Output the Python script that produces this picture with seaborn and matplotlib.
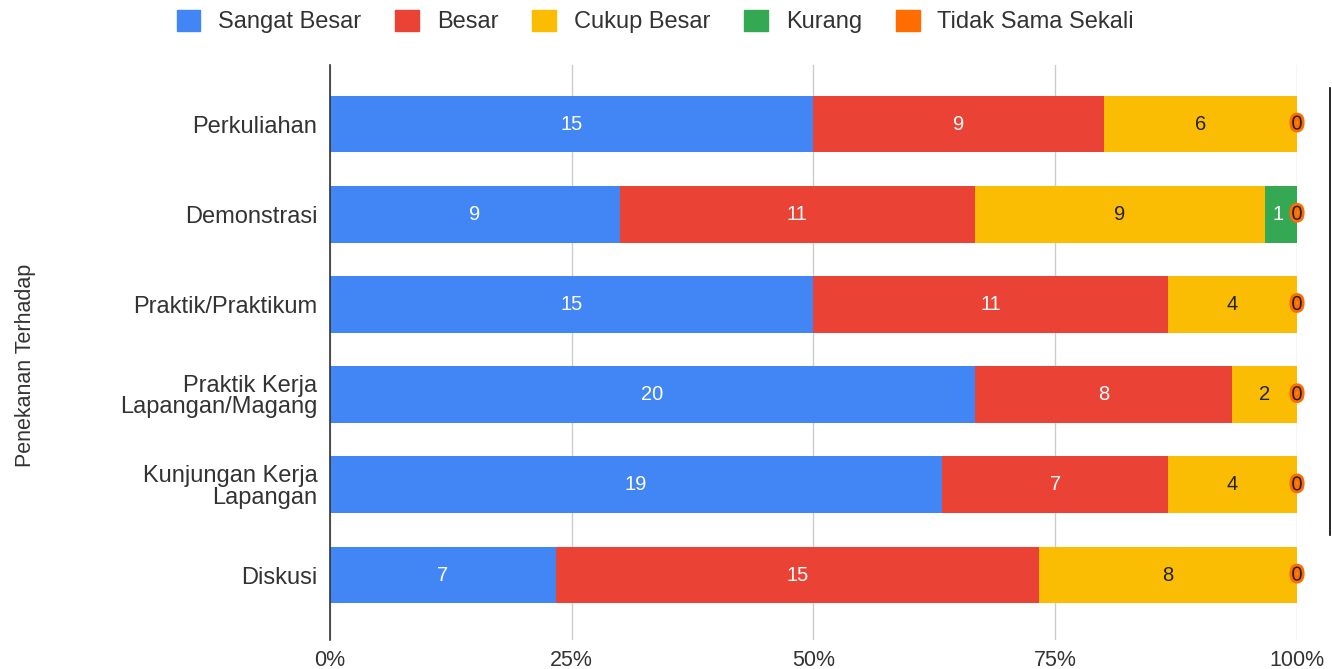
import matplotlib
matplotlib.use("Agg")
import matplotlib.pyplot as plt
import matplotlib.patheffects as pe
from matplotlib.lines import Line2D
from matplotlib.patches import Patch
import numpy as np
import pandas as pd
import seaborn as sns

categories = [
    "Perkuliahan",
    "Demonstrasi",
    "Praktik/Praktikum",
    "Praktik Kerja\nLapangan/Magang",
    "Kunjungan Kerja\nLapangan",
    "Diskusi",
]
series_names = ["Sangat Besar", "Besar", "Cukup Besar", "Kurang", "Tidak Sama Sekali"]
sangat_besar = [15, 9, 15, 20, 19, 7]
besar = [9, 11, 11, 8, 7, 15]
cukup_besar = [6, 9, 4, 2, 4, 8]
kurang = [0, 1, 0, 0, 0, 0]
tidak_sama_sekali = [0, 0, 0, 0, 0, 0]
x_ticks = [0, 25, 50, 75, 100]
x_tick_labels = ["0%", "25%", "50%", "75%", "100%"]

COLORS = ["#4285F4", "#EA4335", "#FBBC04", "#34A853", "#FF6D01"]
TEXT_COLORS = ["white", "white", "#222222", "white", "#222222"]
TXT = "#333333"

plt.rcParams["font.family"] = ["Liberation Sans", "DejaVu Sans"]

counts = np.array([sangat_besar, besar, cukup_besar, kurang, tidak_sama_sekali], dtype=float)
pct = counts / counts.sum(axis=0) * 100
cum = np.cumsum(pct, axis=0)

fig = plt.figure(figsize=(13.32, 6.69), dpi=100)
ax = fig.add_axes([0.2477, 0.0433, 0.726, 0.8595])

# stacked bars: draw cumulative totals from the last series backwards
for i in range(len(series_names) - 1, -1, -1):
    df = pd.DataFrame({"cat": categories, "val": cum[i]})
    sns.barplot(data=df, x="val", y="cat", orient="h", color=COLORS[i],
                saturation=1, width=0.63, ax=ax, zorder=2)

for j in range(len(categories)):
    for i in range(len(series_names)):
        left = cum[i, j] - pct[i, j]
        val = int(counts[i, j])
        if val == 0:
            if i == len(series_names) - 1:
                ax.text(100, j, "0", ha="center", va="center", fontsize=14.5,
                        color="#222222", zorder=5,
                        path_effects=[pe.withStroke(linewidth=4, foreground=COLORS[4])])
            continue
        xpos = left + pct[i, j] / 2
        if i == 3:
            xpos = left + pct[i, j] * 0.4
        ax.text(xpos, j, str(val), ha="center", va="center", fontsize=14.5,
                color=TEXT_COLORS[i], zorder=4)

ax.set_xlim(0, 100)
ax.set_ylim(5.72, -0.654)
ax.set_xticks(x_ticks)
ax.set_xticklabels(x_tick_labels, fontsize=15.5, color=TXT)
ax.tick_params(axis="x", length=0, pad=7)
ax.tick_params(axis="y", length=0, pad=9, labelsize=17, labelcolor=TXT)
ax.grid(axis="x", color="#CCCCCC", linewidth=1, zorder=0)
ax.set_axisbelow(True)
for s in ["top", "right", "bottom"]:
    ax.spines[s].set_visible(False)
ax.spines["left"].set_color("#333333")
ax.spines["left"].set_linewidth(1.2)
ax.spines["left"].set_zorder(3)
ax.set_xlabel("")
ax.set_ylabel("Penekanan Terhadap", fontsize=15.5, color=TXT)
ax.yaxis.set_label_coords(-0.304, 0.478)
for lbl in ax.get_yticklabels():
    lbl.set_horizontalalignment("right")
    lbl.set_linespacing(0.95)

handles = [Patch(facecolor=c, edgecolor=c) for c in COLORS]
fig.legend(handles, series_names, loc="center", bbox_to_anchor=(0.492, 0.968), ncol=5,
           frameon=False, fontsize=17, handlelength=1.0, handleheight=1.0,
           columnspacing=1.45, handletextpad=0.75, labelcolor=TXT)

fig.add_artist(Line2D([1330 / 1332, 1330 / 1332], [1 - 88 / 669, 1 - 535 / 669],
                      color="black", linewidth=1.2))

fig.savefig("out.png", dpi=100)
